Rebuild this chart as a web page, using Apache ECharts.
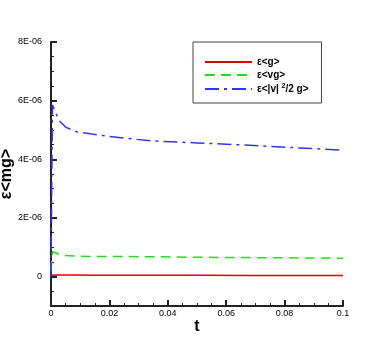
<!DOCTYPE html>
<html lang="en">
<head>
    <meta charset="UTF-8">
    <title>ε&lt;mg&gt;</title>
    <script src="https://cdn.jsdelivr.net/npm/echarts@6/dist/echarts.min.js"></script>
    <style>
        html, body { margin: 0; padding: 0; background: #fff; }
        #container { width: 389px; height: 346px; }
    </style>
</head>
<body>
<div id="container"></div>
<script>
  // time points and values
  var tValues = [0, 0.0005, 0.002, 0.003, 0.005, 0.009, 0.014, 0.02, 0.034, 0.05, 0.068, 0.085, 0.1];
  var epsG = [0.05e-6, 0.06e-6, 0.06e-6, 0.06e-6, 0.055e-6, 0.055e-6, 0.05e-6, 0.05e-6, 0.05e-6, 0.045e-6, 0.04e-6, 0.04e-6, 0.04e-6];
  var epsVg = [0.2e-6, 0.85e-6, 0.8e-6, 0.76e-6, 0.72e-6, 0.7e-6, 0.69e-6, 0.69e-6, 0.68e-6, 0.66e-6, 0.65e-6, 0.64e-6, 0.63e-6];
  var epsV2g = [0, 5.85e-6, 5.5e-6, 5.3e-6, 5.1e-6, 4.93e-6, 4.86e-6, 4.78e-6, 4.63e-6, 4.56e-6, 4.48e-6, 4.39e-6, 4.31e-6];
  var yMajor = [0, 2e-6, 4e-6, 6e-6, 8e-6];
  var seriesNames = ['ε<g>', 'ε<vg>', 'ε<|v|2/2 g>'];

  function pairs(vals) {
    var out = [];
    for (var i = 0; i < tValues.length; i++) {
      out.push([tValues[i], vals[i]]);
    }
    return out;
  }

  function yLabel(v) {
    var n = Math.round(v * 1e6);
    if (n === 0) return '0';
    return n + 'E-06';
  }

  var font = 'Liberation Sans';
  var chart = echarts.init(document.getElementById('container'));
  var option = {
    backgroundColor: '#fff',
    animation: false,
    grid: { left: 51, right: 46, top: 42, bottom: 40, containLabel: false, outerBoundsMode: 'none' },
    legend: {
      orient: 'vertical',
      left: 193,
      top: 42,
      padding: [15, 13, 9, 11],
      itemGap: 3,
      itemWidth: 47,
      itemHeight: 9,
      borderColor: '#444',
      borderWidth: 1,
      backgroundColor: '#fff',
      itemStyle: { opacity: 0 },
      data: seriesNames,
      formatter: function (name) {
        if (name === seriesNames[2]) return 'ε<|v| {sup|2}/2 g>';
        return name;
      },
      textStyle: {
        fontFamily: font,
        fontSize: 10,
        fontWeight: 'bold',
        color: '#000',
        rich: {
          sup: { fontSize: 7, fontWeight: 'bold', verticalAlign: 'top', padding: [0, 0, 5, 0], fontFamily: font }
        }
      }
    },
    xAxis: {
      type: 'value',
      min: 0,
      max: 0.1,
      interval: 0.02,
      name: 't',
      nameLocation: 'middle',
      nameGap: 13,
      nameMoveOverlap: false,
      nameTextStyle: { fontFamily: font, fontSize: 16, fontWeight: 'bold', color: '#000' },
      axisLine: { show: true, onZero: false, lineStyle: { color: '#222', width: 2 } },
      axisTick: { show: true, inside: true, length: 6, lineStyle: { color: '#222', width: 2 } },
      minorTick: { show: true, splitNumber: 4, length: 3, lineStyle: { color: '#222', width: 1 } },
      axisLabel: { fontFamily: font, fontSize: 9, color: '#000', margin: 3 },
      splitLine: { show: false }
    },
    yAxis: [{
      type: 'value',
      min: -1e-6,
      max: 8e-6,
      name: 'ε<mg>',
      nameLocation: 'middle',
      nameGap: 36,
      nameMoveOverlap: false,
      nameTextStyle: { fontFamily: font, fontSize: 16, fontWeight: 'bold', color: '#000' },
      axisLine: { show: true, onZero: false, lineStyle: { color: '#222', width: 2 } },
      axisTick: { show: true, inside: true, length: 6, customValues: yMajor, lineStyle: { color: '#222', width: 2 } },
      axisLabel: { fontFamily: font, fontSize: 9, color: '#000', margin: 9, customValues: yMajor, formatter: yLabel },
      splitLine: { show: false }
    }, {
      type: 'value',
      position: 'left',
      min: -1e-6,
      max: 8e-6,
      interval: 0.5e-6,
      axisLine: { show: false, onZero: false },
      axisTick: { show: true, inside: true, length: 3, lineStyle: { color: '#222', width: 1 } },
      axisLabel: { show: false },
      splitLine: { show: false }
    }],
    series: [{
      name: seriesNames[0],
      type: 'line',
      data: pairs(epsG),
      symbol: 'none',
      lineStyle: { color: '#e00000', width: 1.5 },
      itemStyle: { color: '#e00000' }
    }, {
      name: seriesNames[1],
      type: 'line',
      data: pairs(epsVg),
      symbol: 'none',
      lineStyle: { color: '#22dd22', width: 1.5, type: [10, 6] },
      itemStyle: { color: '#22dd22' }
    }, {
      name: seriesNames[2],
      type: 'line',
      data: pairs(epsV2g),
      symbol: 'none',
      lineStyle: { color: '#3333ff', width: 1.5, type: [14, 5, 3, 5] },
      itemStyle: { color: '#3333ff' }
    }]
  };
  chart.setOption(option);
</script>
</body>
</html>
